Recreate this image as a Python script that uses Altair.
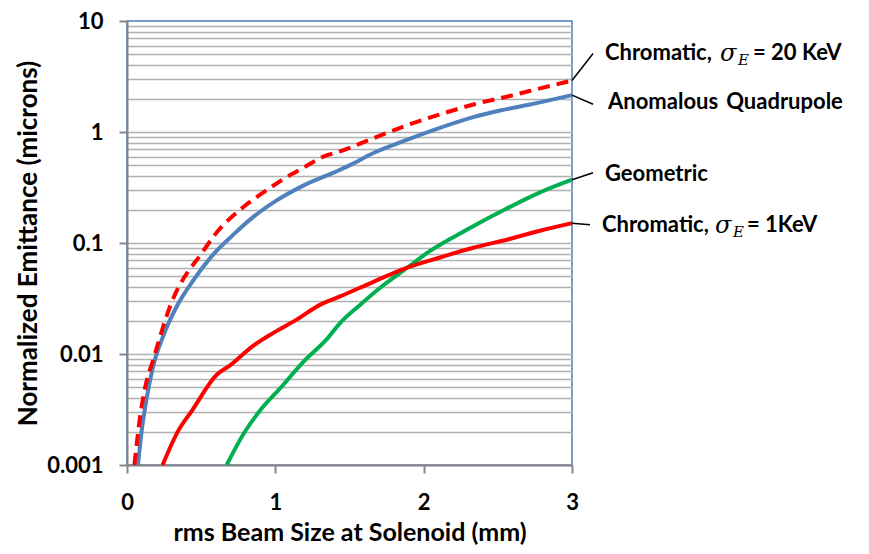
import altair as alt
import pandas as pd

# ---------------- data ----------------
aq_x = [0.074, 0.099, 0.133, 0.178, 0.245, 0.335, 0.447, 0.582, 0.717, 0.852, 1.009,
        1.189, 1.392, 1.5, 1.661, 1.886, 2.066, 2.335, 2.515, 2.717, 3.0]
aq_y = [0.001, 0.00204, 0.004, 0.0079, 0.0146, 0.0268, 0.046, 0.079, 0.119, 0.172, 0.242,
        0.329, 0.43, 0.5, 0.647, 0.85, 1.04, 1.36, 1.56, 1.77, 2.15]

c20_x = [0.05, 0.088, 0.121, 0.178, 0.29, 0.515, 0.593, 0.785, 0.92, 1.054, 1.189,
         1.324, 1.436, 1.661, 1.886, 2.11, 2.335, 2.56, 2.785, 3.0]
c20_y = [0.001, 0.0027, 0.0049, 0.009, 0.0268, 0.085, 0.119, 0.211, 0.286, 0.376, 0.476,
         0.60, 0.67, 0.877, 1.15, 1.44, 1.77, 2.08, 2.47, 2.91]

c1_x = [0.24, 0.346, 0.436, 0.605, 0.695, 0.852, 0.987, 1.144, 1.30, 1.436, 1.661,
        1.863, 2.11, 2.335, 2.56, 2.785, 3.0]
c1_y = [0.001, 0.00204, 0.00306, 0.0065, 0.0079, 0.0119, 0.0155, 0.0204, 0.0277, 0.033,
        0.0447, 0.0583, 0.074, 0.0907, 0.107, 0.129, 0.151]

geo_x = [0.672, 0.785, 0.897, 1.032, 1.189, 1.347, 1.436, 1.571, 1.728, 1.863, 2.043,
         2.29, 2.56, 2.785, 3.0]
geo_y = [0.001, 0.0019, 0.0031, 0.0049, 0.0085, 0.0136, 0.019, 0.0277, 0.0416, 0.0564,
         0.0848, 0.1315, 0.2045, 0.286, 0.372]

x_ticks = [0, 1, 2, 3]
decades = [0.001, 0.01, 0.1, 1, 10]
decade_labels = ["0.001", "0.01", "0.1", "1", "10"]

# annotation anchors (data units)
ann_key = ["c20", "aq", "geo", "c1"]
ann_end_x = [3.0, 3.0, 3.0, 3.0]
ann_end_y = [2.91, 2.15, 0.372, 0.151]
ann_lead_x = [3.142, 3.142, 3.142, 3.1215]
ann_lead_y = [5.1, 1.78, 0.43, 0.146]
ann_text_x = [3.2225, 3.243, 3.2225, 3.202]
ann_text_y = [5.1, 1.85, 0.42, 0.146]
ann_main = ["Chromatic,", "Anomalous\u2009 Quadrupole", "Geometric", "Chromatic,"]
ann_tail = ["= 20 KeV", "", "", "= 1KeV"]

# ---------------- build ----------------
FONT = "Lato"
grid_vals = sorted(set([round(m * d, 6) for d in decades[:-1] for m in range(1, 10)] + [10]))
dec_test = "indexof([" + ",".join(str(d) for d in decades) + "], datum.value) >= 0"

x_axis = alt.Axis(values=x_ticks, title="rms Beam Size at Solenoid (mm)", grid=False,
                  format="d", labelFlush=False, labelOverlap=False,
                  domainColor="#868686", domainWidth=2, tickColor="#868686", tickWidth=2,
                  tickSize=8, labelFont=FONT, labelFontSize=22, labelFontWeight="bold",
                  labelColor="black", labelPadding=19, titleFont=FONT, titleFontSize=25,
                  titleFontWeight="bold", titleColor="black", titlePadding=7)
y_axis = alt.Axis(values=grid_vals, format="~g",
                  labelExpr="indexof(" + str(decade_labels) + ", datum.label) >= 0 ? datum.label : ''",
                  labelOverlap=False, labelFlush=False, labelBound=False,
                  title="Normalized Emittance (microns)",
                  grid=True, gridColor="#b0b0b0", gridWidth=1.7,
                  gridOpacity={"condition": {"test": "datum.value >= 9.99", "value": 0}, "value": 1},
                  tickOpacity={"condition": {"test": dec_test, "value": 1}, "value": 0},
                  domainColor="#868686", domainWidth=2, tickColor="#868686", tickWidth=2,
                  tickSize=8, labelFont=FONT, labelFontSize=22, labelFontWeight="bold",
                  labelColor="black", labelPadding=16, titleFont=FONT, titleFontSize=26,
                  titleFontWeight="bold", titleColor="black", titlePadding=5)

x_scale = alt.Scale(domain=[0, 3], nice=False, zero=False)
y_scale = alt.Scale(type="log", domain=[0.001, 10], nice=False)
X = alt.X("x:Q", scale=x_scale, axis=x_axis)
Y = alt.Y("y:Q", scale=y_scale, axis=y_axis)


def line(xs, ys, color, dash=None):
    df = pd.DataFrame({"x": xs, "y": ys})
    kw = dict(color=color, strokeWidth=4, strokeCap="butt", strokeJoin="round",
              interpolate="monotone")
    if dash:
        kw["strokeDash"] = dash
    return alt.Chart(df).mark_line(**kw).encode(x=X, y=Y, order="x:Q")


ann = pd.DataFrame({"key": ann_key, "x": ann_end_x, "y": ann_end_y, "xe": ann_lead_x,
                    "ye": ann_lead_y, "tx": ann_text_x, "ty": ann_text_y,
                    "main": ann_main, "tail": ann_tail})

leaders = alt.Chart(ann).mark_rule(color="black", strokeWidth=1.5).encode(
    x=X, y=Y, x2="xe:Q", y2="ye:Q")

TX = alt.X("tx:Q", scale=x_scale, axis=x_axis)
TY = alt.Y("ty:Q", scale=y_scale, axis=y_axis)
txt_kw = dict(align="left", baseline="middle", font=FONT, fontSize=22, fontWeight="bold",
              color="black")
main_txt = alt.Chart(ann).mark_text(**txt_kw).encode(x=TX, y=TY, text="main:N")

chrom = ann[ann["tail"] != ""]
sig_kw = dict(align="left", baseline="middle", font="DejaVu Serif", fontStyle="italic",
              color="black")
layers_sig = []
for _, r in chrom.iterrows():
    d = pd.DataFrame([r])
    is20 = r["key"] == "c20"
    sig_dx = 115 if is20 else 113
    e_dx = 133 if is20 else 131
    tail_dx = 148 if is20 else 145
    layers_sig.append(alt.Chart(d).mark_text(dx=sig_dx, dy=1, fontSize=24, **sig_kw).encode(
        x=TX, y=TY, text=alt.value("σ")))
    layers_sig.append(alt.Chart(d).mark_text(dx=e_dx, dy=7, fontSize=15, **sig_kw).encode(
        x=TX, y=TY, text=alt.value("E")))
    layers_sig.append(alt.Chart(d).mark_text(dx=tail_dx, **txt_kw).encode(
        x=TX, y=TY, text="tail:N"))

chart = alt.layer(
    line(aq_x, aq_y, "#4F81BD"),
    line(geo_x, geo_y, "#00B050"),
    line(c1_x, c1_y, "#FF0000"),
    line(c20_x, c20_y, "#FF0000", dash=[12, 7]),
    leaders, main_txt, *layers_sig,
).properties(
    width=445, height=444,
    padding={"left": 119, "top": 13, "right": 280, "bottom": 84},
    autosize=alt.AutoSizeParams(type="none"),
).configure_view(stroke="#4A7EBB", strokeWidth=1.5)

chart.save("out.html", embed_options={"renderer": "svg", "actions": False})
